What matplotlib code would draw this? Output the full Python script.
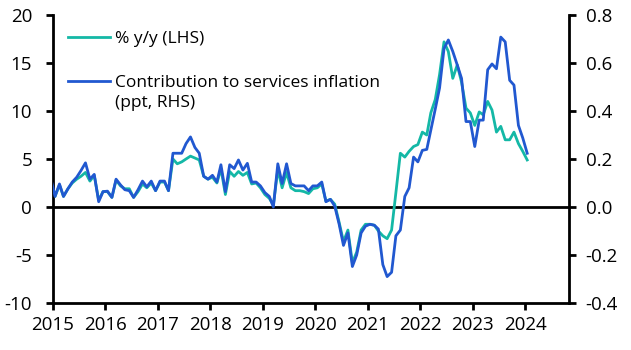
import numpy as np
import pandas as pd
import matplotlib
matplotlib.use('Agg')
import matplotlib.pyplot as plt
import matplotlib.dates as mdates

plt.rcParams['font.family'] = ['Open Sans', 'DejaVu Sans']
plt.rcParams['axes.unicode_minus'] = False

# monthly data, Dec 2014 - Jan 2024 (plotted mid-month)
dates = pd.date_range('2014-12-01', '2024-01-01', freq='MS') + pd.Timedelta(days=14)

# % y/y (LHS)
yoy = [3.0,
       1.1, 2.3, 1.1, 1.9, 2.5, 2.9, 3.2, 3.6, 2.7, 3.3, 0.7, 1.6,
       1.6, 1.0, 2.8, 2.2, 1.9, 1.9, 1.0, 1.6, 2.4, 2.0, 2.5, 1.7,
       2.6, 2.6, 1.7, 5.0, 4.5, 4.7, 5.0, 5.3, 5.1, 4.9, 3.2, 2.9,
       3.1, 2.5, 4.0, 1.3, 3.7, 3.2, 3.7, 3.3, 3.6, 2.4, 2.5, 2.0,
       1.3, 0.9, 0.2, 3.9, 2.0, 3.6, 2.0, 1.7, 1.7, 1.6, 1.4, 1.9,
       2.0, 2.4, 0.6, 0.8, 0.3, -1.6, -3.6, -2.4, -5.8, -4.7, -2.4, -1.8,
       -1.8, -1.9, -2.5, -3.0, -3.3, -2.4, 1.5, 5.6, 5.2, 5.8, 6.3, 6.5,
       7.8, 7.5, 9.8, 11.2, 13.8, 17.2, 16.2, 13.4, 14.8, 13.0, 10.3, 9.8,
       8.5, 9.9, 9.6, 11.0, 10.1, 7.8, 8.4, 7.0, 7.0, 7.8, 6.6, 5.8,
       4.9]

# contribution to services inflation (ppt, RHS)
contrib = [0.124,
           0.044, 0.096, 0.044, 0.076, 0.104, 0.124, 0.152, 0.184, 0.116, 0.136, 0.022, 0.064,
           0.066, 0.040, 0.116, 0.092, 0.072, 0.068, 0.040, 0.072, 0.108, 0.084, 0.108, 0.068,
           0.108, 0.108, 0.068, 0.224, 0.224, 0.224, 0.264, 0.292, 0.248, 0.224, 0.128, 0.116,
           0.132, 0.104, 0.176, 0.064, 0.176, 0.160, 0.196, 0.154, 0.182, 0.104, 0.104, 0.088,
           0.060, 0.044, 0.000, 0.180, 0.098, 0.180, 0.098, 0.088, 0.088, 0.088, 0.068, 0.088,
           0.088, 0.104, 0.022, 0.032, 0.004, -0.072, -0.160, -0.108, -0.248, -0.200, -0.108, -0.080,
           -0.072, -0.076, -0.092, -0.240, -0.290, -0.272, -0.120, -0.096, 0.044, 0.080, 0.208, 0.188,
           0.236, 0.240, 0.320, 0.408, 0.496, 0.660, 0.696, 0.648, 0.592, 0.536, 0.356, 0.356,
           0.252, 0.362, 0.362, 0.572, 0.596, 0.576, 0.708, 0.688, 0.528, 0.508, 0.340, 0.288,
           0.224]

teal = '#14b8a6'
blue = '#2158d0'
fs = 12.5     # legend
tfs = 13.5    # tick labels

fig = plt.figure(figsize=(6.31, 3.5), dpi=100)
ax = fig.add_axes([53 / 631, 47 / 350, 516 / 631, 288 / 350])
ax2 = ax.twinx()

ax.axhline(0, color='black', lw=2, zorder=1)
l1, = ax.plot(dates, yoy, color=teal, lw=2, label='% y/y (LHS)')
l2, = ax2.plot(dates, contrib, color=blue, lw=2,
               label='Contribution to services inflation\n(ppt, RHS)')

ax.set_xlim(pd.Timestamp('2015-01-01'), pd.Timestamp('2024-11-01'))
ax.set_ylim(-10, 20)
ax2.set_ylim(-0.4, 0.8)
ax.set_yticks(np.arange(-10, 21, 5))
ax2.set_yticks(np.arange(-0.4, 0.81, 0.2))
ax2.set_yticklabels([f'{v:.1f}' for v in np.arange(-0.4, 0.81, 0.2)])
ax.xaxis.set_major_locator(mdates.YearLocator())
ax.xaxis.set_major_formatter(mdates.DateFormatter('%Y'))

for a in (ax, ax2):
    a.spines['top'].set_visible(False)
    for s in a.spines.values():
        s.set_linewidth(2)
ax.spines['right'].set_visible(False)
ax2.spines['left'].set_visible(False)
ax2.spines['bottom'].set_visible(False)

ax.tick_params(axis='y', length=5, width=2, pad=10, labelsize=tfs)
ax.tick_params(axis='x', length=5, width=2, pad=4, labelsize=tfs)
ax2.tick_params(axis='y', length=5, width=2, pad=7, labelsize=tfs)

leg = ax.legend(handles=[l1, l2], loc='upper left', bbox_to_anchor=(0.029, 0.945),
                frameon=False, fontsize=fs, borderpad=0, borderaxespad=0,
                handlelength=2.4, handletextpad=0.3, labelspacing=1.6)
leg.set_zorder(5)
leg.get_texts()[1].set_linespacing(1.36)
# put the second handle level with the first line of its label
h2 = leg.legend_handles[1]
h2.set_ydata(np.asarray(h2.get_ydata()) + 8.2)

fig.savefig('out.png', dpi=100)
